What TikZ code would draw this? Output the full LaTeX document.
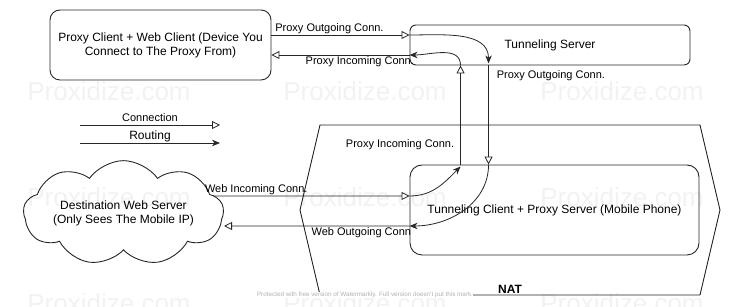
\documentclass[tikz,border=0pt]{standalone}
\usepackage{fontspec}
\setmainfont{Liberation Sans}
\usepackage{tikz}
\usetikzlibrary{shapes.geometric, shapes.symbols, arrows.meta, positioning, calc}

\begin{document}
\begin{tikzpicture}[
    x=1pt, y=1pt,
    font=\fontsize{12}{14}\selectfont,
    devbox/.style={rectangle, draw=black!85, line width=0.9pt, align=center},
    webcloud/.style={cloud, cloud puffs=9, cloud puff arc=110, aspect=2.7, draw=black!85, line width=0.9pt, align=center, inner sep=0pt},
    lbl/.style={font=\fontsize{11}{13}\selectfont, inner sep=1pt},
    wmark/.style={font=\fontsize{26}{28}\selectfont, text=black!5},
    conn/.style={-{Triangle[open, length=8pt, width=8pt]}, line width=0.8pt, draw=black!85},
    route/.style={-{Stealth[length=8pt, width=6.5pt, inset=2.5pt]}, line width=0.8pt, draw=black!85}
]
\useasboundingbox (0,0) rectangle (732,307);

% Watermarks
\foreach \wx in {109, 365, 622}
  \foreach \wy in {216, 110, 4}
    \node[wmark] (wm\wx\wy) at (\wx,\wy) {Proxidize.com};

% NAT zone
\draw[line width=0.9pt, draw=black!85] (320,182) -- (700,182) -- (720,97) -- (700,12) -- (320,12) -- (300,97) -- cycle;
\node[font=\bfseries\fontsize{12}{14}\selectfont] (natlbl) at (510,18) {NAT};
\node[font=\fontsize{6.3}{7}\selectfont, text=black!30, fill=white, inner sep=0.5pt] (wmly) at (365,12) {Protected with free version of Watermarkly. Full version doesn't put this mark.};

% Devices
\node[devbox, rounded corners=10pt, minimum width=221pt, minimum height=70pt] (client) at (160.5,262) {Proxy Client + Web Client (Device You\\Connect to The Proxy From)};
\node[devbox, rounded corners=6pt, minimum width=280pt, minimum height=40pt] (tserver) at (550,262) {Tunneling Server};
\node[devbox, rounded corners=12pt, minimum width=289pt, minimum height=90pt] (mobile) at (554.5,97) {Tunneling Client + Proxy Server (Mobile Phone)};
\node[webcloud, minimum width=197pt, minimum height=72pt] (dest) at (123.5,94) {Destination Web Server\\(Only Sees The Mobile IP)};

% Legend
\coordinate (legA) at (80,182);
\coordinate (legB) at (220,182);
\coordinate (legC) at (80,164);
\coordinate (legD) at (220,164);
\draw[conn] (legA) -- node[lbl, above, yshift=2pt] (legconn) {Connection} (legB);
\draw[route] (legC) -- node[above, inner sep=1pt] (legroute) {Routing} (legD);

% Client <-> tunneling server
\draw[conn] ([yshift=10pt]client.east) -- node[lbl, above, pos=0.42] (pocA) {Proxy Outgoing Conn.} ([yshift=10pt]tserver.west);
\draw[conn] ([yshift=-10pt]tserver.west) -- node[lbl, below, pos=0.36] (picA) {Proxy Incoming Conn.} ([yshift=-10pt]client.east);

% Tunneling server <-> mobile phone
\coordinate (dnA) at ([xshift=79pt]tserver.south west);
\coordinate (dnB) at (dnA |- mobile.north);
\coordinate (upA) at ([xshift=51pt]tserver.south west);
\coordinate (upB) at (upA |- mobile.north);
\draw[conn] (dnA) -- (dnB);
\draw[conn] (upB) -- node[lbl, left, pos=0.2, xshift=-5pt] (picB) {Proxy Incoming Conn.} (upA);
\node[lbl, anchor=west] (pocB) at ([xshift=7pt,yshift=-10pt]dnA) {Proxy Outgoing Conn.};

% Routing inside the nodes
\draw[route] ([yshift=10pt]tserver.west) to[out=0, in=90] ([yshift=2pt]dnA);
\draw[route] (upA) to[out=90, in=0] ([yshift=-10pt]tserver.west);
\draw[route] (dnB) to[out=-90, in=0] ([yshift=-16pt]mobile.west);
\draw[route] ([yshift=14pt]mobile.west) to[out=0, in=-135] ([yshift=-2pt]upB);

% Mobile phone <-> web server
\draw[conn] ([xshift=-11pt,yshift=17pt]dest.east) -- node[lbl, above, pos=0.22] (wic) {Web Incoming Conn.} ([yshift=14pt]mobile.west);
\draw[conn] ([yshift=-16pt]mobile.west) -- node[lbl, below, pos=0.26] (woc) {Web Outgoing Conn} ([yshift=-13pt]dest.east);

\end{tikzpicture}
\end{document}
